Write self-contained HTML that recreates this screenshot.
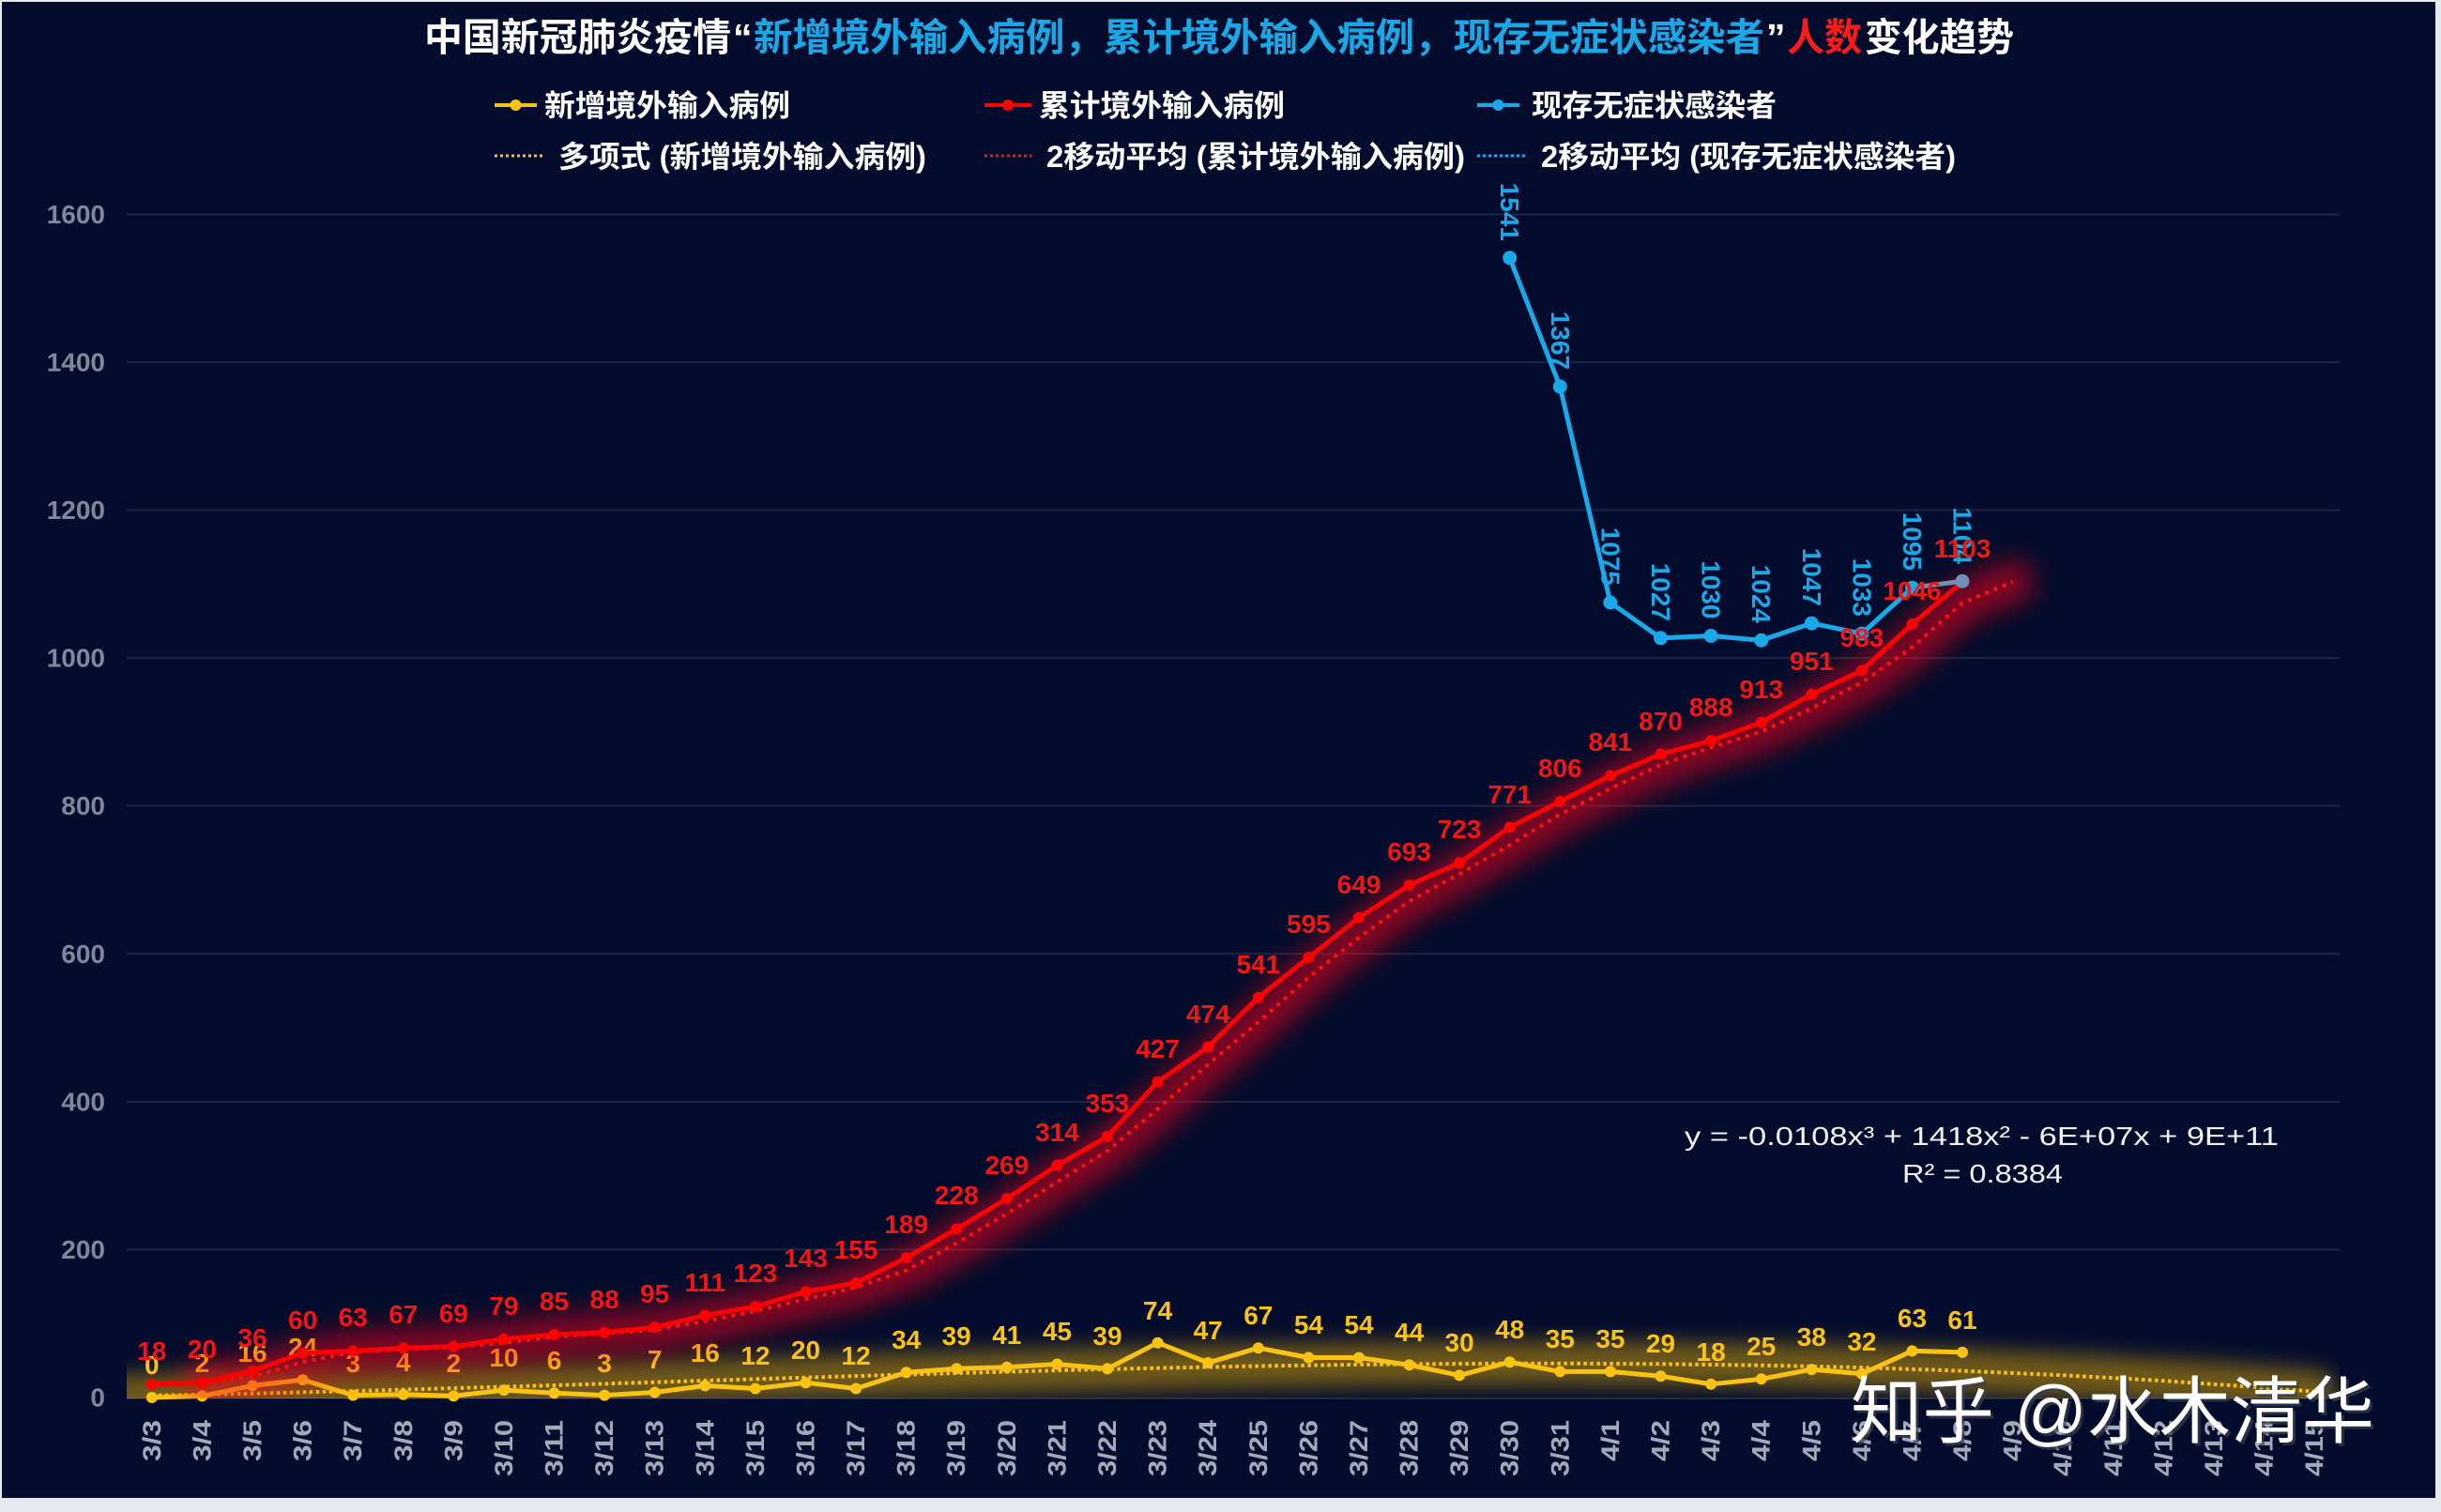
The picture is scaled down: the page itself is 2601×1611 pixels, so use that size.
<!DOCTYPE html>
<html><head><meta charset="utf-8">
<style>
html,body{margin:0;padding:0;background:#e6e9ee;}
svg{display:block;}
.yl{font-family:"Liberation Sans",sans-serif;font-weight:bold;font-size:28px;fill:#80879b;text-anchor:end;dominant-baseline:central;}
.xl{font-family:"Liberation Sans",sans-serif;font-weight:bold;font-size:27px;fill:#a4a9b9;text-anchor:end;dominant-baseline:central;}
.lr{font-family:"Liberation Sans",sans-serif;font-weight:bold;font-size:28px;fill:#f01616;text-anchor:middle;}
.ly{font-family:"Liberation Sans",sans-serif;font-weight:bold;font-size:28px;fill:#fac314;text-anchor:middle;}
.lb{font-family:"Liberation Sans",sans-serif;font-weight:bold;font-size:28px;fill:#19a8e8;text-anchor:end;dominant-baseline:central;}
.cjk{font-family:"Liberation Sans","Noto Sans CJK SC",sans-serif;font-weight:bold;}
.leg{font-family:"Liberation Sans","Noto Sans CJK SC",sans-serif;font-weight:bold;font-size:32px;fill:#ffffff;}
.eq{font-family:"Liberation Sans",sans-serif;font-size:28px;fill:#f2f2f2;}
</style></head>
<body>
<svg width="2601" height="1611" viewBox="0 0 2601 1611" xmlns="http://www.w3.org/2000/svg">
<defs>
<clipPath id="plot"><rect x="135" y="150" width="2358" height="1340"/></clipPath>
<filter id="blurY" x="-20%" y="-200%" width="140%" height="500%"><feGaussianBlur stdDeviation="11"/></filter>
<filter id="blurR" x="-20%" y="-20%" width="140%" height="140%"><feGaussianBlur stdDeviation="13"/></filter>
</defs>
<rect x="0" y="0" width="2601" height="1611" fill="#e6e9ee"/>
<rect x="2" y="2" width="2593" height="1594" fill="#030c2c"/>

<g stroke="#1d2745" stroke-width="2">
<line x1="135" y1="228.4" x2="2493" y2="228.4"/>
<line x1="135" y1="385.9" x2="2493" y2="385.9"/>
<line x1="135" y1="543.5" x2="2493" y2="543.5"/>
<line x1="135" y1="701.1" x2="2493" y2="701.1"/>
<line x1="135" y1="858.6" x2="2493" y2="858.6"/>
<line x1="135" y1="1016.3" x2="2493" y2="1016.3"/>
<line x1="135" y1="1173.9" x2="2493" y2="1173.9"/>
<line x1="135" y1="1331.4" x2="2493" y2="1331.4"/>
<line x1="135" y1="1490" x2="2493" y2="1490"/>
</g>

<text class="yl" x="112" y="228.4">1600</text>
<text class="yl" x="112" y="385.9">1400</text>
<text class="yl" x="112" y="543.5">1200</text>
<text class="yl" x="112" y="701.1">1000</text>
<text class="yl" x="112" y="858.6">800</text>
<text class="yl" x="112" y="1016.3">600</text>
<text class="yl" x="112" y="1173.9">400</text>
<text class="yl" x="112" y="1331.4">200</text>
<text class="yl" x="112" y="1489">0</text>

<g class="cjk" font-size="41">
<text x="452" y="54" fill="#ffffff" textLength="327" lengthAdjust="spacingAndGlyphs">中国新冠肺炎疫情</text>
<text x="781" y="54" fill="#ffffff">“</text>
<text x="803" y="54" fill="#19a7e6" textLength="1077" lengthAdjust="spacingAndGlyphs">新增境外输入病例，累计境外输入病例，现存无症状感染者</text>
<text x="1882" y="54" fill="#ffffff">”</text>
<text x="1904" y="54" fill="#ff1a1a" textLength="80" lengthAdjust="spacingAndGlyphs">人数</text>
<text x="1987" y="54" fill="#ffffff" textLength="159" lengthAdjust="spacingAndGlyphs">变化趋势</text>
</g>

<line x1="527" y1="112" x2="572" y2="112" stroke="#fac314" stroke-width="4"/>
<circle cx="549.5" cy="112" r="6" fill="#fac314"/>
<text class="leg" x="580" y="123.5" textLength="262" lengthAdjust="spacingAndGlyphs">新增境外输入病例</text>
<line x1="1049" y1="112" x2="1099" y2="112" stroke="#ff0000" stroke-width="4"/>
<circle cx="1074" cy="112" r="6" fill="#ff0000"/>
<text class="leg" x="1107" y="123.5" textLength="262" lengthAdjust="spacingAndGlyphs">累计境外输入病例</text>
<line x1="1574" y1="112" x2="1619" y2="112" stroke="#19a8e8" stroke-width="4"/>
<circle cx="1596.5" cy="112" r="6" fill="#19a8e8"/>
<text class="leg" x="1632" y="123.5" textLength="261" lengthAdjust="spacingAndGlyphs">现存无症状感染者</text>

<line x1="527" y1="166" x2="580" y2="166" stroke="#fac314" stroke-width="3" stroke-dasharray="3 3"/>
<text class="leg" x="595" y="178" textLength="392" lengthAdjust="spacingAndGlyphs">多项式 (新增境外输入病例)</text>
<line x1="1049" y1="166" x2="1099" y2="166" stroke="#ff1010" stroke-width="3" stroke-dasharray="3 3"/>
<text class="leg" x="1115" y="178" textLength="446" lengthAdjust="spacingAndGlyphs">2移动平均 (累计境外输入病例)</text>
<line x1="1574" y1="166" x2="1628" y2="166" stroke="#19a8e8" stroke-width="3" stroke-dasharray="3 3"/>
<text class="leg" x="1642" y="178" textLength="442" lengthAdjust="spacingAndGlyphs">2移动平均 (现存无症状感染者)</text>

<g clip-path="url(#plot)">
<polyline filter="url(#blurY)" fill="none" stroke="#ffc000" stroke-opacity="0.43" stroke-width="46" stroke-linecap="round" stroke-linejoin="round"
points="110,1487.6 161.8,1486.9 269.0,1484.7 376.2,1482.1 483.3,1479.1 590.5,1476.0 697.7,1472.7 804.9,1469.4 912.1,1466.1 1019.2,1463.0 1126.4,1460.1 1233.6,1457.6 1340.8,1455.5 1448.0,1453.9 1555.1,1453.0 1662.3,1452.7 1769.5,1453.3 1876.7,1454.7 1983.9,1457.1 2091.0,1460.6 2198.2,1465.3 2305.4,1471.2 2412.6,1478.5 2466.2,1482.7"/>
</g>

<polyline fill="none" stroke="#fac314" stroke-width="4" stroke-dasharray="3.5 3.5"
points="161.8,1486.9 269.0,1484.7 376.2,1482.1 483.3,1479.1 590.5,1476.0 697.7,1472.7 804.9,1469.4 912.1,1466.1 1019.2,1463.0 1126.4,1460.1 1233.6,1457.6 1340.8,1455.5 1448.0,1453.9 1555.1,1453.0 1662.3,1452.7 1769.5,1453.3 1876.7,1454.7 1983.9,1457.1 2091.0,1460.6 2198.2,1465.3 2305.4,1471.2 2412.6,1478.5 2466.2,1482.7"/>

<polyline fill="none" stroke="#fac314" stroke-width="5" stroke-linejoin="round"
points="161.8,1489.0 215.4,1487.4 269.0,1476.4 322.6,1470.1 376.2,1486.6 429.8,1485.8 483.3,1487.4 536.9,1481.1 590.5,1484.3 644.1,1486.6 697.7,1483.5 751.3,1476.4 804.9,1479.5 858.5,1473.2 912.1,1479.5 965.7,1462.2 1019.2,1458.3 1072.8,1456.7 1126.4,1453.5 1180.0,1458.3 1233.6,1430.7 1287.2,1452.0 1340.8,1436.2 1394.4,1446.5 1448.0,1446.5 1501.6,1454.3 1555.1,1465.4 1608.7,1451.2 1662.3,1461.4 1715.9,1461.4 1769.5,1466.2 1823.1,1474.8 1876.7,1469.3 1930.3,1459.1 1983.9,1463.8 2037.5,1439.4 2091.0,1440.9"/>
<g fill="#fac314">
<circle cx="161.8" cy="1489.0" r="6"/><circle cx="215.4" cy="1487.4" r="6"/><circle cx="269.0" cy="1476.4" r="6"/><circle cx="322.6" cy="1470.1" r="6"/><circle cx="376.2" cy="1486.6" r="6"/><circle cx="429.8" cy="1485.8" r="6"/><circle cx="483.3" cy="1487.4" r="6"/><circle cx="536.9" cy="1481.1" r="6"/><circle cx="590.5" cy="1484.3" r="6"/><circle cx="644.1" cy="1486.6" r="6"/><circle cx="697.7" cy="1483.5" r="6"/><circle cx="751.3" cy="1476.4" r="6"/><circle cx="804.9" cy="1479.5" r="6"/><circle cx="858.5" cy="1473.2" r="6"/><circle cx="912.1" cy="1479.5" r="6"/><circle cx="965.7" cy="1462.2" r="6"/><circle cx="1019.2" cy="1458.3" r="6"/><circle cx="1072.8" cy="1456.7" r="6"/><circle cx="1126.4" cy="1453.5" r="6"/><circle cx="1180.0" cy="1458.3" r="6"/><circle cx="1233.6" cy="1430.7" r="6"/><circle cx="1287.2" cy="1452.0" r="6"/><circle cx="1340.8" cy="1436.2" r="6"/><circle cx="1394.4" cy="1446.5" r="6"/><circle cx="1448.0" cy="1446.5" r="6"/><circle cx="1501.6" cy="1454.3" r="6"/><circle cx="1555.1" cy="1465.4" r="6"/><circle cx="1608.7" cy="1451.2" r="6"/><circle cx="1662.3" cy="1461.4" r="6"/><circle cx="1715.9" cy="1461.4" r="6"/><circle cx="1769.5" cy="1466.2" r="6"/><circle cx="1823.1" cy="1474.8" r="6"/><circle cx="1876.7" cy="1469.3" r="6"/><circle cx="1930.3" cy="1459.1" r="6"/><circle cx="1983.9" cy="1463.8" r="6"/><circle cx="2037.5" cy="1439.4" r="6"/><circle cx="2091.0" cy="1440.9" r="6"/>
</g>
<g class="ly">
<text x="161.8" y="1464">0</text><text x="215.4" y="1462">2</text><text x="269.0" y="1451">16</text><text x="322.6" y="1445">24</text><text x="376.2" y="1462">3</text><text x="429.8" y="1461">4</text><text x="483.3" y="1462">2</text><text x="536.9" y="1456">10</text><text x="590.5" y="1459">6</text><text x="644.1" y="1462">3</text><text x="697.7" y="1458">7</text><text x="751.3" y="1451">16</text><text x="804.9" y="1454">12</text><text x="858.5" y="1448">20</text><text x="912.1" y="1454">12</text><text x="965.7" y="1437">34</text><text x="1019.2" y="1433">39</text><text x="1072.8" y="1432">41</text><text x="1126.4" y="1428">45</text><text x="1180.0" y="1433">39</text><text x="1233.6" y="1406">74</text><text x="1287.2" y="1427">47</text><text x="1340.8" y="1411">67</text><text x="1394.4" y="1421">54</text><text x="1448.0" y="1421">54</text><text x="1501.6" y="1429">44</text><text x="1555.1" y="1440">30</text><text x="1608.7" y="1426">48</text><text x="1662.3" y="1436">35</text><text x="1715.9" y="1436">35</text><text x="1769.5" y="1441">29</text><text x="1823.1" y="1450">18</text><text x="1876.7" y="1444">25</text><text x="1930.3" y="1434">38</text><text x="1983.9" y="1439">32</text><text x="2037.5" y="1414">63</text><text x="2091.0" y="1416">61</text>
</g>

<g clip-path="url(#plot)">
<polyline filter="url(#blurR)" fill="none" stroke="#ff0014" stroke-opacity="0.5" stroke-width="46" stroke-linecap="round" stroke-linejoin="round"
points="215.4,1474.0 269.0,1466.9 322.6,1451.2 376.2,1440.5 429.8,1437.8 483.3,1435.4 536.9,1430.7 590.5,1424.4 644.1,1420.8 697.7,1416.9 751.3,1407.8 804.9,1396.8 858.5,1384.2 912.1,1371.6 965.7,1353.5 1019.2,1324.7 1072.8,1293.2 1126.4,1259.3 1180.0,1226.2 1233.6,1181.7 1287.2,1134.1 1340.8,1089.1 1394.4,1041.5 1448.0,998.9 1501.6,960.3 1555.1,931.2 1608.7,900.4 1662.3,867.7 1715.9,840.2 1769.5,815.0 1823.1,796.4 1876.7,779.5 1930.3,754.7 1983.9,727.1 2037.5,689.7 2091.0,642.4 2144.6,620.0"/>
</g>

<polyline fill="none" stroke="#ff1010" stroke-width="4" stroke-dasharray="4 6"
points="215.4,1474.0 269.0,1466.9 322.6,1451.2 376.2,1440.5 429.8,1437.8 483.3,1435.4 536.9,1430.7 590.5,1424.4 644.1,1420.8 697.7,1416.9 751.3,1407.8 804.9,1396.8 858.5,1384.2 912.1,1371.6 965.7,1353.5 1019.2,1324.7 1072.8,1293.2 1126.4,1259.3 1180.0,1226.2 1233.6,1181.7 1287.2,1134.1 1340.8,1089.1 1394.4,1041.5 1448.0,998.9 1501.6,960.3 1555.1,931.2 1608.7,900.4 1662.3,867.7 1715.9,840.2 1769.5,815.0 1823.1,796.4 1876.7,779.5 1930.3,754.7 1983.9,727.1 2037.5,689.7 2091.0,642.4 2144.6,620.0"/>

<polyline fill="none" stroke="#ff0000" stroke-width="5" stroke-linejoin="round"
points="161.8,1474.8 215.4,1473.2 269.0,1460.6 322.6,1441.7 376.2,1439.4 429.8,1436.2 483.3,1434.6 536.9,1426.8 590.5,1422.0 644.1,1419.7 697.7,1414.1 751.3,1401.5 804.9,1392.1 858.5,1376.3 912.1,1366.9 965.7,1340.1 1019.2,1309.4 1072.8,1277.1 1126.4,1241.6 1180.0,1210.9 1233.6,1152.6 1287.2,1115.5 1340.8,1062.7 1394.4,1020.2 1448.0,977.7 1501.6,943.0 1555.1,919.4 1608.7,881.5 1662.3,854.0 1715.9,826.4 1769.5,803.5 1823.1,789.3 1876.7,769.7 1930.3,739.7 1983.9,714.5 2037.5,664.9 2091.0,620.0"/>
<g fill="#ff0000">
<circle cx="161.8" cy="1474.8" r="6"/><circle cx="215.4" cy="1473.2" r="6"/><circle cx="269.0" cy="1460.6" r="6"/><circle cx="322.6" cy="1441.7" r="6"/><circle cx="376.2" cy="1439.4" r="6"/><circle cx="429.8" cy="1436.2" r="6"/><circle cx="483.3" cy="1434.6" r="6"/><circle cx="536.9" cy="1426.8" r="6"/><circle cx="590.5" cy="1422.0" r="6"/><circle cx="644.1" cy="1419.7" r="6"/><circle cx="697.7" cy="1414.1" r="6"/><circle cx="751.3" cy="1401.5" r="6"/><circle cx="804.9" cy="1392.1" r="6"/><circle cx="858.5" cy="1376.3" r="6"/><circle cx="912.1" cy="1366.9" r="6"/><circle cx="965.7" cy="1340.1" r="6"/><circle cx="1019.2" cy="1309.4" r="6"/><circle cx="1072.8" cy="1277.1" r="6"/><circle cx="1126.4" cy="1241.6" r="6"/><circle cx="1180.0" cy="1210.9" r="6"/><circle cx="1233.6" cy="1152.6" r="6"/><circle cx="1287.2" cy="1115.5" r="6"/><circle cx="1340.8" cy="1062.7" r="6"/><circle cx="1394.4" cy="1020.2" r="6"/><circle cx="1448.0" cy="977.7" r="6"/><circle cx="1501.6" cy="943.0" r="6"/><circle cx="1555.1" cy="919.4" r="6"/><circle cx="1608.7" cy="881.5" r="6"/><circle cx="1662.3" cy="854.0" r="6"/><circle cx="1715.9" cy="826.4" r="6"/><circle cx="1769.5" cy="803.5" r="6"/><circle cx="1823.1" cy="789.3" r="6"/><circle cx="1876.7" cy="769.7" r="6"/><circle cx="1930.3" cy="739.7" r="6"/><circle cx="1983.9" cy="714.5" r="6"/><circle cx="2037.5" cy="664.9" r="6"/><circle cx="2091.0" cy="620.0" r="6"/>
</g>

<polyline fill="none" stroke="#19a8e8" stroke-width="5" stroke-linejoin="round"
points="1608.7,274.8 1662.3,411.9 1715.9,642.0 1769.5,679.8 1823.1,677.5 1876.7,682.2 1930.3,664.1 1983.9,675.1 2037.5,626.2"/>
<line x1="2037.5" y1="626.2" x2="2091.0" y2="619.2" stroke="#6f8fb6" stroke-width="5"/>
<g fill="#19a8e8">
<circle cx="1608.7" cy="274.8" r="7.5"/><circle cx="1662.3" cy="411.9" r="7.5"/><circle cx="1715.9" cy="642.0" r="7.5"/><circle cx="1769.5" cy="679.8" r="7.5"/><circle cx="1823.1" cy="677.5" r="7.5"/><circle cx="1876.7" cy="682.2" r="7.5"/><circle cx="1930.3" cy="664.1" r="7.5"/><circle cx="1983.9" cy="675.1" r="7.5"/><circle cx="2037.5" cy="626.2" r="7.5"/>
</g>
<circle cx="2091.0" cy="619.2" r="7.5" fill="#6f8fb6"/>

<g class="lb">
<text transform="translate(1608.7,257) rotate(90)">1541</text>
<text transform="translate(1662.3,394) rotate(90)">1367</text>
<text transform="translate(1715.9,624) rotate(90)">1075</text>
<text transform="translate(1769.5,662) rotate(90)">1027</text>
<text transform="translate(1823.1,659.5) rotate(90)">1030</text>
<text transform="translate(1876.7,664) rotate(90)">1024</text>
<text transform="translate(1930.3,646) rotate(90)">1047</text>
<text transform="translate(1983.9,657) rotate(90)">1033</text>
<text transform="translate(2037.5,608) rotate(90)">1095</text>
<text transform="translate(2091.0,601) rotate(90)">1104</text>
</g>

<g class="lr">
<text x="161.8" y="1449">18</text><text x="215.4" y="1447">20</text><text x="269.0" y="1435">36</text><text x="322.6" y="1416">60</text><text x="376.2" y="1413">63</text><text x="429.8" y="1410">67</text><text x="483.3" y="1409">69</text><text x="536.9" y="1401">79</text><text x="590.5" y="1396">85</text><text x="644.1" y="1394">88</text><text x="697.7" y="1388">95</text><text x="751.3" y="1376">111</text><text x="804.9" y="1366">123</text><text x="858.5" y="1350">143</text><text x="912.1" y="1341">155</text><text x="965.7" y="1314">189</text><text x="1019.2" y="1283">228</text><text x="1072.8" y="1251">269</text><text x="1126.4" y="1216">314</text><text x="1180.0" y="1185">353</text><text x="1233.6" y="1127">427</text><text x="1287.2" y="1090">474</text><text x="1340.8" y="1037">541</text><text x="1394.4" y="994">595</text><text x="1448.0" y="952">649</text><text x="1501.6" y="917">693</text><text x="1555.1" y="893">723</text><text x="1608.7" y="856">771</text><text x="1662.3" y="828">806</text><text x="1715.9" y="800">841</text><text x="1769.5" y="778">870</text><text x="1823.1" y="763">888</text><text x="1876.7" y="744">913</text><text x="1930.3" y="714">951</text><text x="1983.9" y="689">983</text><text x="2037.5" y="639">1046</text><text x="2091.0" y="594">1103</text>
</g>

<g class="xl">
<text transform="translate(161.8,1513) rotate(-90)" textLength="44" lengthAdjust="spacingAndGlyphs">3/3</text>
<text transform="translate(215.4,1513) rotate(-90)" textLength="44" lengthAdjust="spacingAndGlyphs">3/4</text>
<text transform="translate(269.0,1513) rotate(-90)" textLength="44" lengthAdjust="spacingAndGlyphs">3/5</text>
<text transform="translate(322.6,1513) rotate(-90)" textLength="44" lengthAdjust="spacingAndGlyphs">3/6</text>
<text transform="translate(376.2,1513) rotate(-90)" textLength="44" lengthAdjust="spacingAndGlyphs">3/7</text>
<text transform="translate(429.8,1513) rotate(-90)" textLength="44" lengthAdjust="spacingAndGlyphs">3/8</text>
<text transform="translate(483.3,1513) rotate(-90)" textLength="44" lengthAdjust="spacingAndGlyphs">3/9</text>
<text transform="translate(536.9,1513) rotate(-90)" textLength="60" lengthAdjust="spacingAndGlyphs">3/10</text>
<text transform="translate(590.5,1513) rotate(-90)" textLength="60" lengthAdjust="spacingAndGlyphs">3/11</text>
<text transform="translate(644.1,1513) rotate(-90)" textLength="60" lengthAdjust="spacingAndGlyphs">3/12</text>
<text transform="translate(697.7,1513) rotate(-90)" textLength="60" lengthAdjust="spacingAndGlyphs">3/13</text>
<text transform="translate(751.3,1513) rotate(-90)" textLength="60" lengthAdjust="spacingAndGlyphs">3/14</text>
<text transform="translate(804.9,1513) rotate(-90)" textLength="60" lengthAdjust="spacingAndGlyphs">3/15</text>
<text transform="translate(858.5,1513) rotate(-90)" textLength="60" lengthAdjust="spacingAndGlyphs">3/16</text>
<text transform="translate(912.1,1513) rotate(-90)" textLength="60" lengthAdjust="spacingAndGlyphs">3/17</text>
<text transform="translate(965.7,1513) rotate(-90)" textLength="60" lengthAdjust="spacingAndGlyphs">3/18</text>
<text transform="translate(1019.2,1513) rotate(-90)" textLength="60" lengthAdjust="spacingAndGlyphs">3/19</text>
<text transform="translate(1072.8,1513) rotate(-90)" textLength="60" lengthAdjust="spacingAndGlyphs">3/20</text>
<text transform="translate(1126.4,1513) rotate(-90)" textLength="60" lengthAdjust="spacingAndGlyphs">3/21</text>
<text transform="translate(1180.0,1513) rotate(-90)" textLength="60" lengthAdjust="spacingAndGlyphs">3/22</text>
<text transform="translate(1233.6,1513) rotate(-90)" textLength="60" lengthAdjust="spacingAndGlyphs">3/23</text>
<text transform="translate(1287.2,1513) rotate(-90)" textLength="60" lengthAdjust="spacingAndGlyphs">3/24</text>
<text transform="translate(1340.8,1513) rotate(-90)" textLength="60" lengthAdjust="spacingAndGlyphs">3/25</text>
<text transform="translate(1394.4,1513) rotate(-90)" textLength="60" lengthAdjust="spacingAndGlyphs">3/26</text>
<text transform="translate(1448.0,1513) rotate(-90)" textLength="60" lengthAdjust="spacingAndGlyphs">3/27</text>
<text transform="translate(1501.6,1513) rotate(-90)" textLength="60" lengthAdjust="spacingAndGlyphs">3/28</text>
<text transform="translate(1555.1,1513) rotate(-90)" textLength="60" lengthAdjust="spacingAndGlyphs">3/29</text>
<text transform="translate(1608.7,1513) rotate(-90)" textLength="60" lengthAdjust="spacingAndGlyphs">3/30</text>
<text transform="translate(1662.3,1513) rotate(-90)" textLength="60" lengthAdjust="spacingAndGlyphs">3/31</text>
<text transform="translate(1715.9,1513) rotate(-90)" textLength="44" lengthAdjust="spacingAndGlyphs">4/1</text>
<text transform="translate(1769.5,1513) rotate(-90)" textLength="44" lengthAdjust="spacingAndGlyphs">4/2</text>
<text transform="translate(1823.1,1513) rotate(-90)" textLength="44" lengthAdjust="spacingAndGlyphs">4/3</text>
<text transform="translate(1876.7,1513) rotate(-90)" textLength="44" lengthAdjust="spacingAndGlyphs">4/4</text>
<text transform="translate(1930.3,1513) rotate(-90)" textLength="44" lengthAdjust="spacingAndGlyphs">4/5</text>
<text transform="translate(1983.9,1513) rotate(-90)" textLength="44" lengthAdjust="spacingAndGlyphs">4/6</text>
<text transform="translate(2037.5,1513) rotate(-90)" textLength="44" lengthAdjust="spacingAndGlyphs">4/7</text>
<text transform="translate(2091.0,1513) rotate(-90)" textLength="44" lengthAdjust="spacingAndGlyphs">4/8</text>
<text transform="translate(2144.6,1513) rotate(-90)" textLength="44" lengthAdjust="spacingAndGlyphs">4/9</text>
<text transform="translate(2198.2,1513) rotate(-90)" textLength="60" lengthAdjust="spacingAndGlyphs">4/10</text>
<text transform="translate(2251.8,1513) rotate(-90)" textLength="60" lengthAdjust="spacingAndGlyphs">4/11</text>
<text transform="translate(2305.4,1513) rotate(-90)" textLength="60" lengthAdjust="spacingAndGlyphs">4/12</text>
<text transform="translate(2359.0,1513) rotate(-90)" textLength="60" lengthAdjust="spacingAndGlyphs">4/13</text>
<text transform="translate(2412.6,1513) rotate(-90)" textLength="60" lengthAdjust="spacingAndGlyphs">4/14</text>
<text transform="translate(2466.2,1513) rotate(-90)" textLength="60" lengthAdjust="spacingAndGlyphs">4/15</text>
</g>

<text class="eq" x="1795" y="1220" textLength="633" lengthAdjust="spacingAndGlyphs">y = -0.0108x³ + 1418x² - 6E+07x + 9E+11</text>
<text class="eq" x="2027" y="1260" textLength="171" lengthAdjust="spacingAndGlyphs">R² = 0.8384</text>

<g font-family="'Liberation Sans','Noto Sans CJK SC',sans-serif" font-size="78">
<text x="1975" y="1534" fill="#3a3f4c" fill-opacity="0.7" textLength="558" lengthAdjust="spacingAndGlyphs">知乎 @水木清华</text>
<text x="1972" y="1531" fill="#ffffff" textLength="558" lengthAdjust="spacingAndGlyphs">知乎 @水木清华</text>
</g>
</svg>
</body></html>
